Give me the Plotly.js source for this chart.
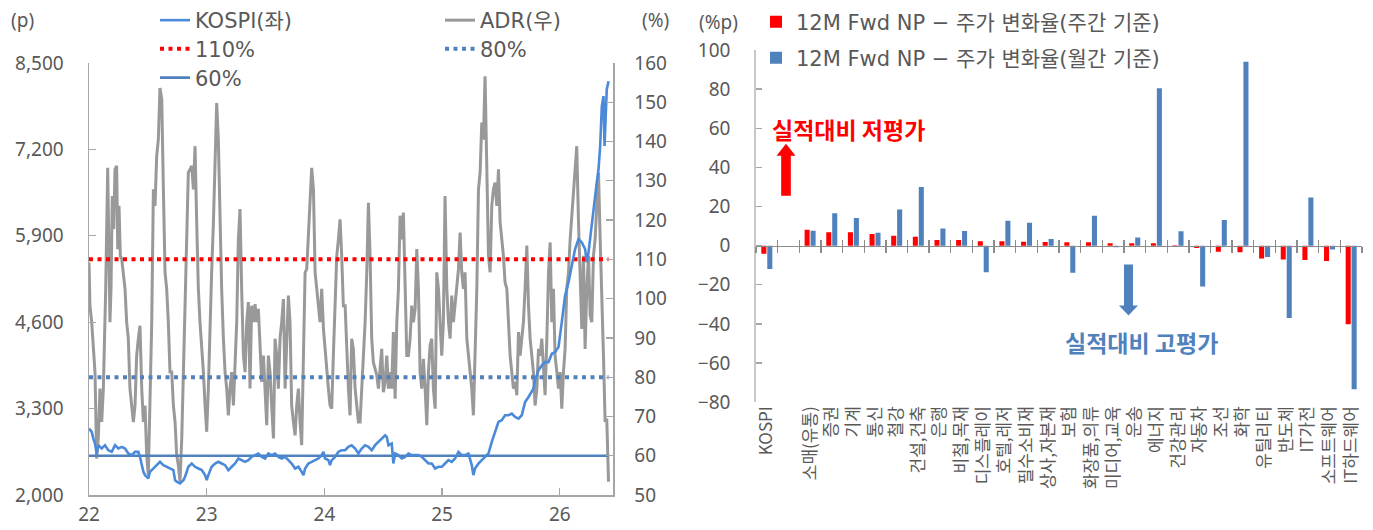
<!DOCTYPE html>
<html>
<head>
<meta charset="utf-8">
<script src="https://cdn.plot.ly/plotly-3.0.1.min.js"></script>
<style>
html,body{margin:0;padding:0;background:#ffffff;}
#chart{width:1373px;height:530px;}
</style>
</head>
<body>
<div id="chart"></div>
<script>
// ---------------- DATA ----------------
// Left panel: KOSPI (left axis, p) and ADR (right axis, %), x in decimal years
const yearTicks = [2022, 2023, 2024, 2025, 2026];
const yearTickText = ['22', '23', '24', '25', '26'];
const kospiTicks = [2000, 3300, 4600, 5900, 7200, 8500];

const adrDates = [
2022.000,2022.008,2022.023,2022.037,2022.051,2022.065,2022.079,2022.093,2022.108,2022.122,
2022.130,2022.142,2022.159,2022.170,2022.178,2022.187,2022.198,2022.210,2022.221,2022.235,
2022.244,2022.255,2022.266,2022.278,2022.292,2022.306,2022.320,2022.334,2022.348,2022.363,
2022.377,2022.391,2022.405,2022.419,2022.433,2022.448,2022.462,2022.476,2022.490,2022.504,
2022.518,2022.533,2022.547,2022.561,2022.575,2022.589,2022.603,2022.618,2022.632,2022.646,
2022.660,2022.674,2022.688,2022.703,2022.717,2022.731,2022.745,2022.759,2022.773,2022.788,
2022.802,2022.816,2022.830,2022.844,2022.858,2022.873,2022.887,2022.901,2022.915,2022.929,
2022.943,2022.958,2022.972,2022.986,2023.000,2023.014,2023.028,2023.042,2023.057,2023.071,
2023.085,2023.099,2023.113,2023.127,2023.142,2023.156,2023.170,2023.184,2023.198,2023.212,
2023.227,2023.241,2023.255,2023.269,2023.283,2023.297,2023.312,2023.326,2023.340,2023.354,
2023.368,2023.382,2023.397,2023.411,2023.425,2023.439,2023.453,2023.467,2023.482,2023.496,
2023.510,2023.524,2023.538,2023.552,2023.567,2023.581,2023.595,2023.609,2023.623,2023.637,
2023.652,2023.666,2023.680,2023.694,2023.708,2023.722,2023.737,2023.751,2023.765,2023.779,
2023.793,2023.807,2023.822,2023.836,2023.850,2023.864,2023.878,2023.892,2023.907,2023.921,
2023.935,2023.949,2023.963,2023.977,2023.992,2024.006,2024.020,2024.034,2024.048,2024.062,
2024.076,2024.091,2024.105,2024.119,2024.133,2024.147,2024.161,2024.176,2024.190,2024.204,
2024.218,2024.232,2024.246,2024.261,2024.275,2024.289,2024.303,2024.317,2024.331,2024.346,
2024.360,2024.374,2024.388,2024.402,2024.416,2024.431,2024.445,2024.459,2024.473,2024.487,
2024.501,2024.516,2024.530,2024.544,2024.558,2024.572,2024.586,2024.601,2024.615,2024.629,
2024.643,2024.657,2024.671,2024.686,2024.700,2024.714,2024.728,2024.742,2024.756,2024.771,
2024.785,2024.799,2024.813,2024.827,2024.841,2024.856,2024.870,2024.884,2024.898,2024.912,
2024.926,2024.941,2024.955,2024.969,2024.983,2024.997,2025.011,2025.025,2025.040,2025.054,
2025.068,2025.082,2025.096,2025.110,2025.125,2025.139,2025.153,2025.167,2025.181,2025.195,
2025.210,2025.224,2025.238,2025.252,2025.266,2025.280,2025.295,2025.309,2025.323,2025.337,
2025.351,2025.365,2025.380,2025.394,2025.408,2025.422,2025.436,2025.450,2025.465,2025.479,
2025.493,2025.507,2025.521,2025.535,2025.550,2025.564,2025.578,2025.592,2025.606,2025.620,
2025.635,2025.649,2025.663,2025.677,2025.691,2025.705,2025.720,2025.734,2025.748,2025.762,
2025.776,2025.790,2025.805,2025.819,2025.833,2025.847,2025.861,2025.875,2025.890,2025.904,
2025.918,2025.932,2025.946,2025.960,2025.975,2025.989,2026.003,2026.017,2026.031,2026.045,
2026.059,2026.074,2026.088,2026.102,2026.116,2026.130,2026.144,2026.159,2026.173,2026.187,
2026.201,2026.215,2026.229,2026.244,2026.258,2026.272,2026.286,2026.300,2026.314,2026.329,
2026.343,2026.357,2026.371,2026.385,2026.399,2026.414
];
const adrValues = [
109.2,98.2,94.0,87.2,81.3,59.3,64.4,77.1,68.6,77.1,
85.5,102.5,133.3,110.9,94.0,102.5,126.1,117.7,132.9,133.8,
112.6,123.6,110.9,110.1,105.8,102.5,94.0,89.8,77.1,72.8,
68.6,72.8,85.5,89.8,93.1,77.1,68.6,72.8,60.2,55.1,
77.1,94.0,127.8,123.6,136.3,140.5,153.6,150.7,127.8,106.7,
102.5,94.0,81.3,81.3,72.8,68.6,60.2,57.6,53.4,64.4,
81.3,98.2,110.9,132.1,132.9,133.8,127.8,138.8,119.4,102.5,
94.0,88.1,81.3,72.8,66.1,77.1,94.0,106.7,119.4,136.3,
149.8,140.5,119.4,102.5,89.8,81.3,77.1,70.3,77.1,81.3,
72.8,85.5,94.0,115.1,122.8,102.5,85.5,81.3,94.0,99.1,
77.1,98.2,94.0,98.6,94.0,97.4,85.5,78.8,85.5,77.1,
67.8,85.5,81.3,72.8,64.4,89.8,85.5,77.1,89.8,94.0,
99.9,77.1,89.8,100.8,94.0,72.8,68.6,65.2,72.8,77.1,
68.6,62.7,85.5,106.7,107.5,115.1,123.6,133.3,127.8,106.7,
102.5,98.2,94.0,102.5,92.3,87.2,81.3,77.1,72.8,72.0,
85.5,98.2,110.9,115.1,120.2,110.9,98.2,98.2,85.5,77.1,
70.3,89.8,87.2,77.1,72.8,68.6,68.6,77.1,87.2,94.0,
106.7,124.4,110.9,89.8,83.8,82.1,80.5,77.1,81.3,87.2,
76.2,78.8,85.5,77.1,81.3,77.1,91.5,74.5,94.0,102.5,
121.1,115.1,121.9,102.5,85.5,85.5,89.8,98.2,94.0,97.4,
112.6,102.5,81.3,77.1,84.7,77.1,67.8,81.3,88.1,89.8,
77.1,72.0,106.7,102.5,94.0,85.5,94.0,126.1,102.5,94.0,
89.8,100.8,94.0,98.2,102.5,107.5,116.8,106.7,102.5,106.7,
89.8,85.5,81.3,77.1,70.3,85.5,102.5,127.8,132.1,144.8,
140.5,156.6,127.8,110.9,106.7,123.6,127.8,129.5,123.6,132.9,
119.4,115.1,110.9,104.1,102.5,94.0,85.5,81.3,77.1,78.8,
75.4,91.5,85.5,89.8,94.0,102.5,113.5,98.2,89.8,85.5,
81.3,72.8,77.1,87.2,85.5,89.8,81.3,75.4,89.8,106.7,
114.3,94.0,102.5,85.5,81.3,77.1,81.3,72.0,81.3,87.2,
102.5,106.7,115.1,121.1,126.1,132.1,138.8,119.4,106.7,92.3,
110.9,87.2,102.5,110.9,95.7,94.0,110.9,115.1,123.6,132.1,
115.1,102.5,85.5,68.6,69.5,53.4
];

const kospiDates = [
2022.000,2022.023,2022.037,2022.051,2022.065,2022.079,2022.108,2022.136,2022.164,2022.193,
2022.221,2022.249,2022.278,2022.306,2022.334,2022.363,2022.391,2022.419,2022.433,2022.448,
2022.462,2022.476,2022.490,2022.504,2022.518,2022.547,2022.575,2022.603,2022.632,2022.660,
2022.688,2022.717,2022.731,2022.745,2022.773,2022.788,2022.802,2022.816,2022.844,2022.873,
2022.901,2022.929,2022.958,2022.986,2023.000,2023.014,2023.042,2023.071,2023.099,2023.127,
2023.156,2023.184,2023.212,2023.241,2023.269,2023.297,2023.326,2023.354,2023.382,2023.411,
2023.439,2023.467,2023.496,2023.524,2023.552,2023.581,2023.609,2023.637,2023.666,2023.694,
2023.722,2023.751,2023.779,2023.807,2023.822,2023.836,2023.864,2023.892,2023.921,2023.949,
2023.977,2023.992,2024.006,2024.034,2024.048,2024.062,2024.091,2024.119,2024.147,2024.176,
2024.204,2024.232,2024.261,2024.289,2024.317,2024.346,2024.374,2024.402,2024.431,2024.459,
2024.487,2024.516,2024.530,2024.544,2024.572,2024.586,2024.601,2024.629,2024.657,2024.686,
2024.714,2024.742,2024.771,2024.799,2024.827,2024.856,2024.884,2024.912,2024.941,2024.969,
2024.997,2025.025,2025.054,2025.082,2025.110,2025.139,2025.167,2025.195,2025.224,2025.252,
2025.266,2025.280,2025.309,2025.337,2025.365,2025.394,2025.422,2025.450,2025.479,2025.507,
2025.535,2025.564,2025.592,2025.620,2025.649,2025.677,2025.705,2025.734,2025.762,2025.776,
2025.790,2025.819,2025.847,2025.875,2025.904,2025.932,2025.960,2025.989,2026.017,2026.045,
2026.074,2026.102,2026.130,2026.159,2026.187,2026.215,2026.229,2026.244,2026.272,2026.286,
2026.300,2026.314,2026.329,2026.343,2026.357,2026.371,2026.380,2026.391,2026.399,2026.414
];
const kospiValues = [
3000,2950,2850,2775,2625,2750,2700,2750,2675,2650,
2750,2700,2725,2700,2625,2600,2650,2650,2575,2450,
2350,2300,2275,2250,2350,2400,2450,2500,2450,2425,
2400,2375,2225,2200,2175,2200,2225,2275,2425,2475,
2425,2400,2375,2300,2225,2300,2425,2475,2500,2475,
2450,2375,2425,2475,2550,2525,2500,2525,2575,2600,
2625,2575,2550,2625,2600,2625,2575,2550,2575,2525,
2475,2400,2425,2350,2300,2400,2475,2500,2525,2550,
2600,2650,2550,2525,2450,2525,2575,2650,2675,2675,
2725,2750,2700,2625,2700,2750,2725,2675,2750,2800,
2850,2900,2875,2750,2775,2475,2625,2600,2550,2575,
2625,2600,2600,2600,2575,2525,2475,2475,2400,2425,
2425,2475,2525,2500,2550,2650,2600,2600,2625,2450,
2300,2400,2475,2525,2575,2625,2800,2950,3100,3125,
3200,3200,3225,3175,3150,3200,3400,3475,3550,3600,
3725,3875,3950,4000,4000,4125,4150,4225,4600,5000,
5200,5450,5700,5850,5800,5700,5500,5650,6100,6250,
6450,6700,6900,7250,7850,8000,7250,7850,8100,8225
];

const thresholdNames = ['110%', '80%', '60%'];
const thresholdLevels = [110, 80, 60];
const thresholdSpan = [2022.0, 2026.414];

// Right panel: 12M Fwd NP - price change gap (%p)
const sectorLabels = ['KOSPI', ' ', '소매(유통)', '증권', '기계', '통신', '철강', '건설,건축', '은행',
  '비철,목재', '디스플레이', '호텔,레저', '필수소비재', '상사,자본재', '보험', '화장품,의류',
  '미디어,교육', '운송', '에너지', '건강관리', '자동차', '조선', '화학', '유틸리티', '반도체',
  'IT가전', '소프트웨어', 'IT하드웨어'];
const weeklyGap = [-4.2, null, 8.1, 6.8, 6.8, 5.9, 5.1, 4.6, 2.9, 2.9, 2.2, 2.2, 2.0, 1.9, 1.7, 1.7,
  1.2, 1.2, 1.2, 0.2, -1.2, -3.1, -3.4, -6.6, -7.1, -7.3, -7.8, -40.2];
const monthlyGap = [-11.9, null, 7.6, 16.6, 14.1, 6.6, 18.5, 30.0, 8.8, 7.5, -13.6, 12.7, 11.7, 3.4, -13.9,
  15.3, -0.8, 4.2, 80.4, 7.3, -20.9, 13.1, 94.0, -5.8, -37.0, 24.6, -2.0, -73.3];
const barTicks = [-80, -60, -40, -20, 0, 20, 40, 60, 80, 100];

// ---------------- LAYOUT HELPERS ----------------
const W = 1373, H = 530;
const px = v => v / W;
const py = v => 1 - v / H;
const FONT = 'Noto Sans, "Noto Sans CJK KR", sans-serif';
const LFONT = '"DejaVu Sans", "Noto Sans CJK KR", sans-serif';
const KFONT = '"Noto Sans CJK KR", Noto Sans, sans-serif';
const textGray = '#595959';
const axisGray = '#A6A6A6';
const blue = '#4F81BD';
const kospiBlue = '#4A8AD8';
const red = '#FF0000';
const tickFont = {family: FONT, size: 19, color: textGray};

// ---------------- TRACES ----------------
const traces = [];
traces.push({
  type: 'scatter', mode: 'lines', name: 'ADR(우)', x: adrDates, y: adrValues,
  xaxis: 'x', yaxis: 'y', line: {color: '#999999', width: 3}, legend: 'legend2'
});
const thrStyle = [
  {color: red, dash: '4px,4.5px', width: 4, legend: 'legend3'},
  {color: blue, dash: '4px,4.5px', width: 4, legend: 'legend4'},
  {color: blue, dash: 'solid', width: 2.6, legend: 'legend5'}
];
thresholdLevels.forEach((lv, i) => {
  traces.push({
    type: 'scatter', mode: 'lines', name: thresholdNames[i],
    x: thresholdSpan, y: thresholdSpan.map(() => lv),
    xaxis: 'x', yaxis: 'y',
    line: {color: thrStyle[i].color, dash: thrStyle[i].dash, width: thrStyle[i].width},
    legend: thrStyle[i].legend
  });
});
traces.push({
  type: 'scatter', mode: 'lines', name: 'KOSPI(좌)', x: kospiDates, y: kospiValues,
  xaxis: 'x', yaxis: 'y2', line: {color: kospiBlue, width: 2.6}, legend: 'legend'
});
traces.push({
  type: 'bar', name: '12M Fwd NP − 주가 변화율(주간 기준)', x: sectorLabels, y: weeklyGap,
  xaxis: 'x3', yaxis: 'y3', marker: {color: red}, legend: 'legend6'
});
traces.push({
  type: 'bar', name: '12M Fwd NP − 주가 변화율(월간 기준)', x: sectorLabels, y: monthlyGap,
  xaxis: 'x3', yaxis: 'y3', marker: {color: blue}, legend: 'legend7'
});
// carrier for the upward half of the category tick marks on the zero axis
traces.push({
  type: 'scatter', mode: 'markers', x: sectorLabels, y: sectorLabels.map(() => null),
  xaxis: 'x4', yaxis: 'y3', showlegend: false, hoverinfo: 'skip'
});

// ---------------- SHAPES (arrows) ----------------
function arrowPath(pts) {
  return 'M' + pts.map(p => px(p[0]).toFixed(5) + ',' + py(p[1]).toFixed(5)).join(' L') + ' Z';
}
const upArrow = arrowPath([[786, 143], [795.5, 155], [790.8, 155], [790.8, 195], [781.2, 195], [781.2, 155], [776.5, 155]]);
const downArrow = arrowPath([[1128.5, 315], [1138, 305], [1133, 305], [1133, 264], [1124, 264], [1124, 305], [1119, 305]]);

function legendAt(x, y) {
  return {
    x: px(x), y: py(y), xanchor: 'left', yanchor: 'middle', bgcolor: 'rgba(0,0,0,0)', borderwidth: 0,
    font: {family: LFONT, size: 21, color: textGray}
  };
}

function label(text, x, y, font) {
  return {text: text, xref: 'paper', yref: 'paper', x: px(x), y: py(y), xanchor: 'center', yanchor: 'middle',
    showarrow: false, font: font};
}

const layout = {
  width: W, height: H,
  margin: {l: 0, r: 0, t: 0, b: 0},
  paper_bgcolor: '#ffffff', plot_bgcolor: 'rgba(0,0,0,0)',
  font: {family: FONT, size: 19, color: textGray},
  showlegend: true,
  barmode: 'group', bargap: 0.45, bargroupgap: 0.15,
  xaxis: {
    domain: [px(89), px(613)], range: [2022, 2026.452], anchor: 'y',
    tickmode: 'array', tickvals: yearTicks, ticktext: yearTickText,
    ticks: 'inside', ticklen: 7, tickcolor: axisGray, tickwidth: 1.3,
    showline: true, linecolor: axisGray, linewidth: 1.5,
    showgrid: false, zeroline: false, automargin: false,
    tickfont: tickFont, ticklabelstandoff: 2
  },
  yaxis: {
    domain: [py(495), py(62)], range: [50, 160], dtick: 10, tick0: 50, anchor: 'x', side: 'right',
    ticks: 'inside', ticklen: 7, tickcolor: axisGray, tickwidth: 1.3,
    showline: true, linecolor: axisGray, linewidth: 1.5,
    showgrid: false, zeroline: false, automargin: false,
    tickfont: tickFont, ticklabelstandoff: 16
  },
  yaxis2: {
    overlaying: 'y', side: 'left', anchor: 'x', range: [2000, 8500],
    tickmode: 'array', tickvals: kospiTicks, tickformat: ',d',
    ticks: 'inside', ticklen: 7, tickcolor: axisGray, tickwidth: 1.3,
    showline: true, linecolor: axisGray, linewidth: 1.5,
    showgrid: false, zeroline: false, automargin: false,
    tickfont: tickFont, ticklabelstandoff: 20
  },
  xaxis3: {
    domain: [px(756), px(1362)], anchor: 'free', position: py(245),
    type: 'category', categoryorder: 'array', categoryarray: sectorLabels, range: [-0.5, 27.5],
    tickson: 'boundaries', ticks: 'outside', ticklen: 6, tickcolor: '#8C8C8C', tickwidth: 1.3,
    showline: true, linecolor: '#8C8C8C', linewidth: 1.8,
    showgrid: false, zeroline: false, automargin: false,
    tickangle: -90, tickfont: {family: KFONT, size: 17, color: textGray},
    ticklabelstandoff: 152
  },
  xaxis4: {
    overlaying: 'x3', anchor: 'free', position: py(245),
    type: 'category', categoryorder: 'array', categoryarray: sectorLabels, range: [-0.5, 27.5],
    tickson: 'boundaries', ticks: 'inside', ticklen: 6, tickcolor: '#8C8C8C', tickwidth: 1.3,
    showticklabels: false, showline: false, showgrid: false, zeroline: false, automargin: false
  },
  yaxis3: {
    domain: [py(402), py(49)], range: [-80, 100], anchor: 'x3',
    tickmode: 'array', tickvals: barTicks,
    ticks: 'inside', ticklen: 6, tickcolor: axisGray, tickwidth: 1.3,
    showline: true, linecolor: '#C8C8C8', linewidth: 1.8,
    showgrid: false, zeroline: false, automargin: false,
    tickfont: tickFont, ticklabelstandoff: 20
  },
  legend: legendAt(155, 20),
  legend2: legendAt(440, 20),
  legend3: legendAt(155, 49),
  legend4: legendAt(440, 49),
  legend5: legendAt(155, 78),
  legend6: legendAt(756, 22),
  legend7: legendAt(756, 58),
  annotations: [
    label('(p)', 22, 19, tickFont),
    label('(%)', 655, 19, tickFont),
    label('(%p)', 718, 21, tickFont),
    label('<b>실적대비 저평가</b>', 848, 128, {family: KFONT, size: 23, color: red}),
    label('<b>실적대비 고평가</b>', 1141, 342, {family: KFONT, size: 23, color: blue})
  ],
  shapes: [
    {type: 'path', xref: 'paper', yref: 'paper', path: upArrow, fillcolor: red, line: {width: 0}},
    {type: 'path', xref: 'paper', yref: 'paper', path: downArrow, fillcolor: blue, line: {width: 0}}
  ]
};

Plotly.newPlot('chart', traces, layout, {displayModeBar: false, staticPlot: true});
</script>
</body>
</html>
